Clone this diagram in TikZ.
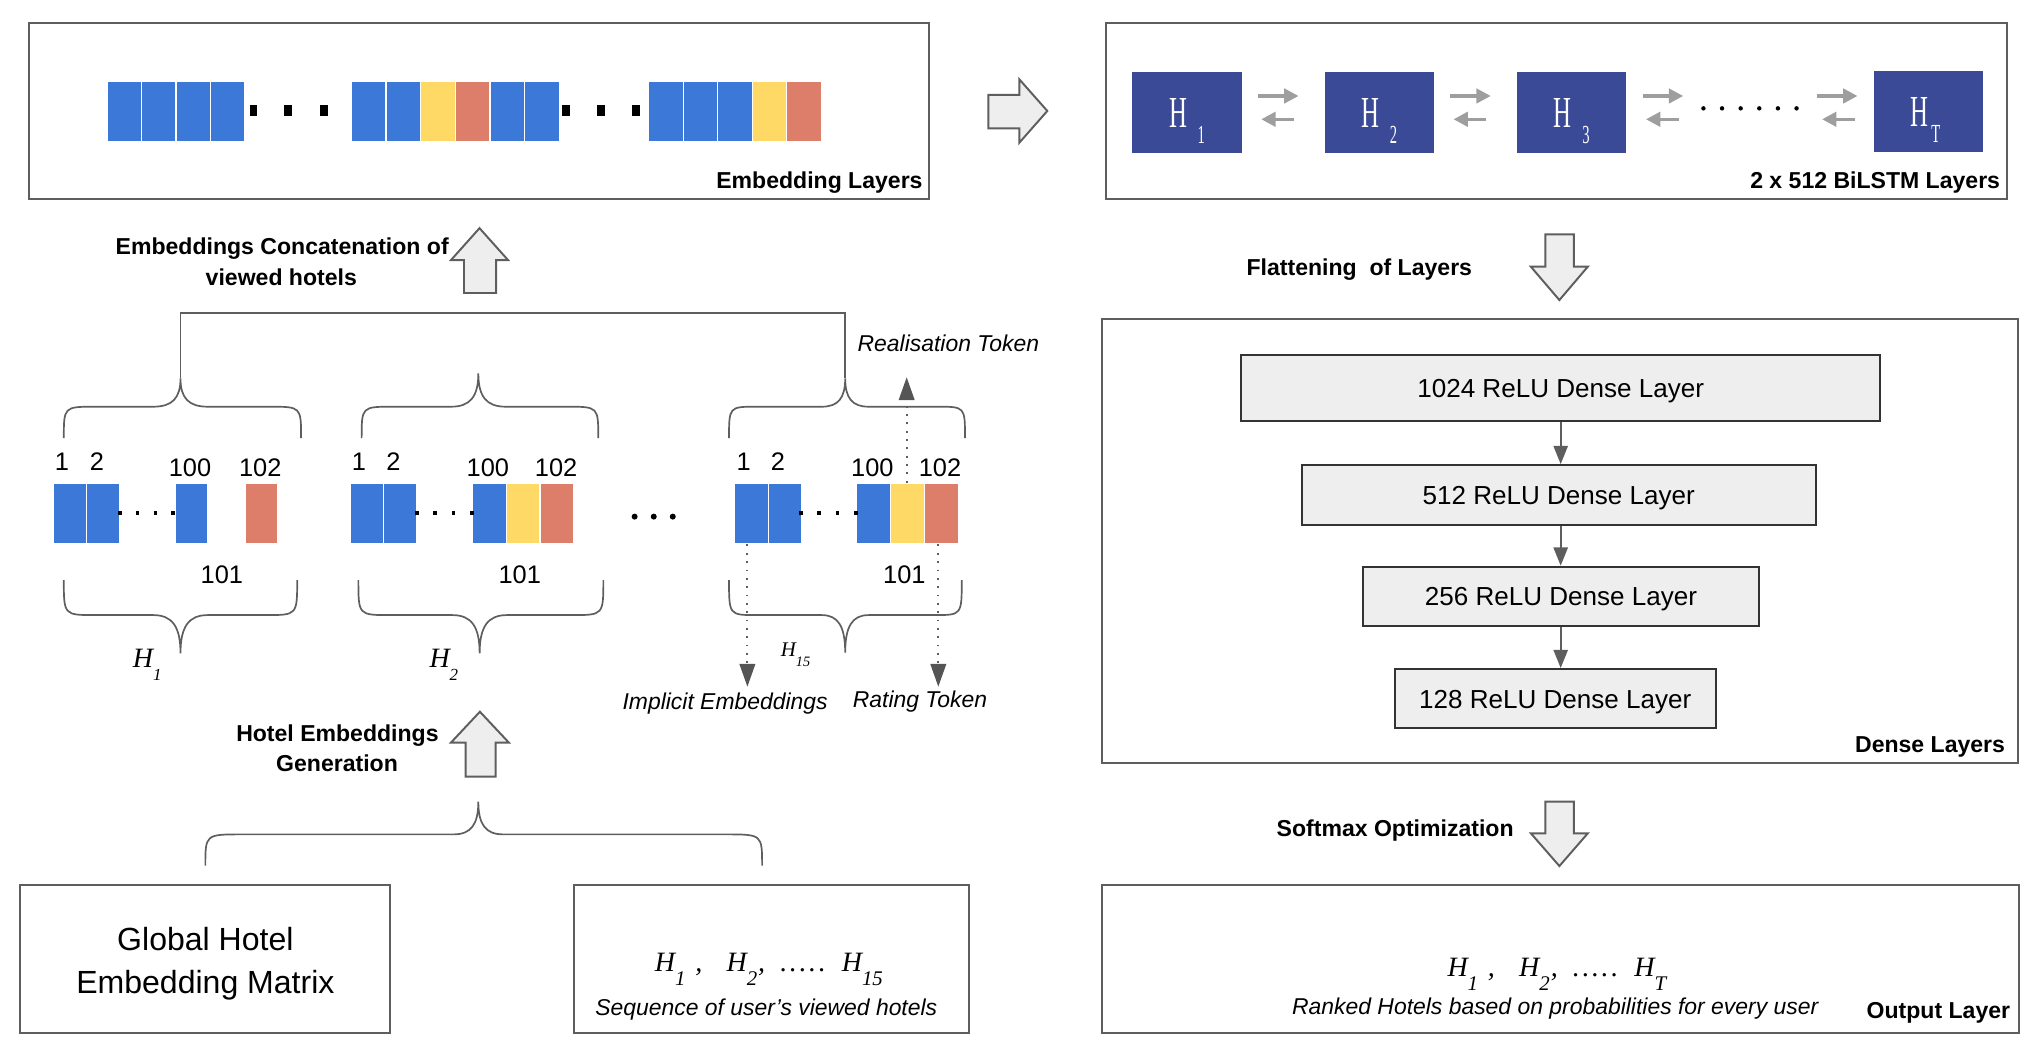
\documentclass[tikz,border=0pt]{standalone}
\usepackage{fontspec}
\setmainfont{Liberation Sans}
\newfontfamily\serif{Liberation Serif}
\usepackage{graphicx}
\usetikzlibrary{arrows.meta,calc}
\definecolor{gblue}{HTML}{3C78D8}
\definecolor{gyel}{HTML}{FFD966}
\definecolor{gred}{HTML}{DD7E6B}
\definecolor{navy}{HTML}{3A4A96}
\definecolor{edge}{HTML}{5E5E5E}
\definecolor{lgray}{HTML}{EEEEEE}
\definecolor{bigray}{HTML}{9E9E9E}
\definecolor{tipgray}{HTML}{555555}
\newcommand{\fs}[1]{\fontsize{#1}{#1}\selectfont}
% italic serif H with lowered subscript: main size, sub size, drop, sub text
\newcommand{\Hit}[4]{{\serif\itshape\fs{#1}H\raisebox{-#3pt}{\fs{#2}#4}}}
% upright condensed white H for the BiLSTM boxes: gap, sub text
\newcommand{\Hup}[2]{{\color{white}\serif\scalebox{0.56}[1]{\fs{34}H}\hspace{#1pt}\raisebox{-12.7pt}{\scalebox{0.56}[1]{\fs{20}#2}}}}
\newcommand{\fivedots}{.\hspace{2pt}.\hspace{2pt}.\hspace{2pt}.\hspace{2pt}.}
% brace: xl xr xt yend ymid ytip corner cusp
\newcommand{\brc}[8]{%
\draw[bracestyle] (#1,#4) .. controls (#1,#5) and (#1,#5) .. ({#1+#7},#5) -- ({#3-#8},#5)
  .. controls ({#3-0.3*#8},#5) and (#3,{#5-0.3*(#5-#6)}) .. (#3,#6)
  .. controls (#3,{#5-0.3*(#5-#6)}) and ({#3+0.3*#8},#5) .. ({#3+#8},#5) -- ({#2-#7},#5)
  .. controls (#2,#5) and (#2,#5) .. (#2,#4);}
\tikzset{
  bracestyle/.style={draw=edge, line width=1.3pt},
  cbox/.style={draw=edge, line width=1.5pt},
  blk/.style={draw=white, line width=0.9pt, inner sep=0pt, anchor=north west, minimum height=46.5pt},
  hbox/.style={fill=navy, minimum width=84pt, minimum height=62pt, inner sep=0pt},
  dense/.style={draw=black!80, fill=lgray, line width=1.5pt, inner sep=0pt, font=\fs{20}, text height=14.4pt, text depth=0pt},
  fat/.style={draw=edge, fill=lgray, line width=1.5pt, line join=miter},
  lbl/.style={font=\fs{17.7}\bfseries, inner sep=0pt},
  itl/.style={font=\fs{17.6}\itshape, inner sep=0pt, anchor=base},
  num/.style={font=\fs{19.5}, inner sep=0pt, anchor=base},
  big/.style={font=\fs{24.6}, inner sep=0pt, anchor=base},
  hl/.style={inner sep=0pt, anchor=base west},
  sfont/.style={font=\serif\itshape\fs{21.5}, inner sep=0pt, anchor=base west},
  dotarrow/.style={draw=edge, line width=1.4pt, dash pattern=on 1.4pt off 5pt, -{Triangle[length=17.5pt,width=12pt,color=tipgray]}},
  biarrow/.style={draw=bigray, line width=2.6pt, -{Triangle[length=11pt,width=11pt]}},
  dnarrow/.style={draw=edge, line width=1.3pt, -{Triangle[length=14pt,width=11pt]}},
}
\begin{document}
\begin{tikzpicture}[x=1pt,y=-1pt]
\useasboundingbox (0,0) rectangle (1568,811);

% ---------------- Embedding Layers box ----------------
\draw[cbox] (22,18) rectangle (713,153);
\foreach \c [count=\i] in {gblue,gblue,gblue,gblue}
  \node[blk, fill=\c, minimum width=26.45pt] (ea\i) at ({81.8+(\i-1)*26.45},62) {};
\foreach \c [count=\i] in {gblue,gblue,gyel,gred,gblue,gblue}
  \node[blk, fill=\c, minimum width=26.6pt] (eb\i) at ({269.4+(\i-1)*26.6},62) {};
\foreach \c [count=\i] in {gblue,gblue,gblue,gyel,gred}
  \node[blk, fill=\c, minimum width=26.5pt] (ec\i) at ({497.6+(\i-1)*26.5},62) {};
\foreach \x in {194.6,221.4,248.8,434.4,461.3,488.2}
  \fill (\x-3,85-4.3) rectangle (\x+3,85+4.3);
\node[lbl, anchor=base east] (embl) at (708.6,144.6) {Embedding Layers};

% right fat arrow
\draw[fat] (758.9,72.9) -- (782.7,72.9) -- (782.7,60.9) -- (804.2,85.2) -- (782.7,109.6) -- (782.7,98.5) -- (758.9,98.5) -- cycle;

% ---------------- BiLSTM box ----------------
\draw[cbox] (849,18) rectangle (1540.8,153);
\node[hbox] (h1) at (911.5,86.6) {};
\node[hbox] (h2) at (1059.1,86.6) {};
\node[hbox] (h3) at (1206.9,86.6) {};
\node[hbox] (hT) at (1480.6,85.8) {};
\node[inner sep=0pt, anchor=base] (h1t) at (911.5,97.8) {\Hup{8}{1}};
\node[inner sep=0pt, anchor=base] (h2t) at (1059.1,97.8) {\Hup{8}{2}};
\node[inner sep=0pt, anchor=base] (h3t) at (1206.9,97.8) {\Hup{8}{3}};
\node[inner sep=0pt, anchor=base] (hTt) at (1478.6,97) {\Hup{2}{T}};
\foreach \n in {h1,h2,h3}{
  \draw[biarrow] ($(\n.east)+(12.2,-12.9)$) -- ($(\n.east)+(43.4,-12.9)$);
  \draw[biarrow] ($(\n.east)+(40.1,5)$) -- ($(\n.east)+(14.8,5)$);
}
\draw[biarrow] ($(hT.west)+(-43.3,-12.1)$) -- ($(hT.west)+(-12.1,-12.1)$);
\draw[biarrow] ($(hT.west)+(-14.3,5.8)$) -- ($(hT.west)+(-39.3,5.8)$);
\foreach \i in {0,...,5}
  \fill ({1308+\i*14.3},83.2) circle (1.7);
\node[lbl, anchor=base east] (bil) at (1536,144.6) {2 x 512 BiLSTM Layers};

% Flattening arrow
\draw[fat] (1186.7,180) -- (1208.5,180) -- (1208.5,204.8) -- (1219.2,204.8) -- (1197.4,230.4) -- (1175.5,204.8) -- (1186.7,204.8) -- cycle;
\node[lbl, anchor=base] (flat) at (1043.8,211.2) {Flattening\ \ of Layers};

% ---------------- Dense layers ----------------
\draw[cbox] (846.1,245) rectangle (1549.6,586);
\node[dense, minimum width=490.4pt, minimum height=50.4pt] (d1) at (1198.4,297.8) {1024 ReLU Dense Layer};
\node[dense, minimum width=394.5pt, minimum height=46pt] (d2) at (1196.9,380.1) {512 ReLU Dense Layer};
\node[dense, minimum width=303.6pt, minimum height=45.6pt] (d3) at (1198.6,457.9) {256 ReLU Dense Layer};
\node[dense, minimum width=246.4pt, minimum height=45.6pt] (d4) at (1194.2,536.5) {128 ReLU Dense Layer};
\draw[dnarrow] (d1.south) -- (d1.south |- d2.north);
\draw[dnarrow] (d1.south |- d2.south) -- (d1.south |- d3.north);
\draw[dnarrow] (d1.south |- d3.south) -- (d1.south |- d4.north);
\node[lbl, anchor=base east] (dnl) at (1539.8,577.7) {Dense Layers};

% Softmax arrow
\draw[fat] (1186.7,615.6) -- (1208.5,615.6) -- (1208.5,639.9) -- (1219.2,639.9) -- (1197.4,665) -- (1175.5,639.9) -- (1186.7,639.9) -- cycle;
\node[lbl, anchor=base] (soft) at (1071.3,642.4) {Softmax Optimization};

% ---------------- Output layer ----------------
\draw[cbox] (846.1,679.6) rectangle (1550.6,793);
\node[hl] (o1) at (1111.3,750) {\Hit{21.5}{16}{10.3}{1}};
\node[sfont] (o1c) at (1142.3,750) {,};
\node[hl] (o2) at (1166.3,750) {\Hit{21.5}{16}{10.3}{2}};
\node[sfont] (o2c) at (1190.6,750) {,};
\node[sfont] (o2d) at (1207.6,750) {\fivedots};
\node[hl] (o3) at (1254.8,750) {\Hit{21.5}{16}{10.3}{T}};
\node[itl] (rank) at (1194.2,779) {Ranked Hotels based on probabilities for every user};
\node[lbl, anchor=base east] (outl) at (1543.7,782) {Output Layer};

% ---------------- Concatenation arrow ----------------
\draw[fat] (356.3,225) -- (356.3,199.7) -- (346.3,199.7) -- (368.2,175.2) -- (390.1,199.7) -- (380.9,199.7) -- (380.9,225) -- cycle;
\node[lbl, anchor=base] (cc1) at (216.7,195.8) {Embeddings Concatenation of};
\node[lbl, anchor=base] (cc2) at (216,219.6) {viewed hotels};

% connector joining braces
\draw[bracestyle] (138.6,290.5) -- (138.6,240.6) -- (649,240.6) -- (649,290.5);

% top braces
\brc{49}{231.2}{138.6}{336.4}{312.3}{290.5}{24}{21}
\brc{277.7}{459.4}{367.3}{336.4}{312.3}{286.7}{24}{21}
\brc{559.8}{741}{649}{336.4}{312.3}{290.5}{21}{18}
% bottom braces
\brc{49}{228.2}{138.6}{445.4}{472.3}{501.7}{24}{21}
\brc{275.2}{463.3}{368.3}{445.4}{472.3}{501.7}{24}{21}
\brc{559.8}{738.5}{649}{445.4}{472.3}{501.2}{21}{18}

% ---------------- Hotel blocks ----------------
\node[blk, fill=gblue, minimum width=25.8pt, minimum height=46.6pt] (ra1) at (40.2,370.6) {};
\node[blk, fill=gblue, minimum width=25.6pt, minimum height=46.6pt] (ra2) at (66,370.6) {};
\node[blk, fill=gblue, minimum width=25pt, minimum height=46.6pt] (ra3) at (134.2,370.6) {};
\node[blk, fill=gred, minimum width=24.9pt, minimum height=46.6pt] (ra4) at (188.1,370.6) {};
\node[blk, fill=gblue, minimum width=25.7pt, minimum height=46.6pt] (rb1) at (268.4,370.6) {};
\node[blk, fill=gblue, minimum width=25.7pt, minimum height=46.6pt] (rb2) at (294.1,370.6) {};
\node[blk, fill=gblue, minimum width=25.9pt, minimum height=46.6pt] (rb3) at (362.4,370.6) {};
\node[blk, fill=gyel, minimum width=25.9pt, minimum height=46.6pt] (rb4) at (388.3,370.6) {};
\node[blk, fill=gred, minimum width=25.9pt, minimum height=46.6pt] (rb5) at (414.2,370.6) {};
\node[blk, fill=gblue, minimum width=25.7pt, minimum height=46.6pt] (rc1) at (563.7,370.6) {};
\node[blk, fill=gblue, minimum width=25.7pt, minimum height=46.6pt] (rc2) at (589.4,370.6) {};
\node[blk, fill=gblue, minimum width=26.1pt, minimum height=46.6pt] (rc3) at (657.2,370.6) {};
\node[blk, fill=gyel, minimum width=26.1pt, minimum height=46.6pt] (rc4) at (683.3,370.6) {};
\node[blk, fill=gred, minimum width=26.1pt, minimum height=46.6pt] (rc5) at (709.4,370.6) {};
\foreach \x in {92.1,105.7,119.3,132.6, 320,334,348.3,362.4, 615.1,629.1,643.2,657.2}
  \fill (\x-1.4,393.7-1.4) rectangle (\x+1.4,393.7+1.4);
\foreach \x in {487.3,502,516.6}
  \fill (\x,396.7) circle (2.3);

% numbers
\node[num] (na1) at (47.5,360.9) {1};
\node[num] (na2) at (74.4,360.9) {2};
\node[num] (na3) at (145.9,366) {100};
\node[num] (na4) at (199.8,366) {102};
\node[num] (na5) at (170.4,447.9) {101};
\node[num] (nb1) at (275.7,360.9) {1};
\node[num] (nb2) at (302.2,360.9) {2};
\node[num] (nb3) at (374.6,366) {100};
\node[num] (nb4) at (427,366) {102};
\node[num] (nb5) at (399.1,447.9) {101};
\node[num] (nc1) at (571,360.9) {1};
\node[num] (nc2) at (597.4,360.9) {2};
\node[num] (nc3) at (669.9,366) {100};
\node[num] (nc4) at (721.8,366) {102};
\node[num] (nc5) at (694.4,447.9) {101};

% H labels under braces
\node[hl] (lh1) at (101.8,512.4) {\Hit{21.5}{13}{10}{1}};
\node[hl] (lh2) at (329.6,512.4) {\Hit{21.5}{13}{10}{2}};
\node[hl] (lh15) at (599.4,504.2) {\Hit{16}{11}{7.7}{15}};

% dotted token arrows
\coordinate (imp) at (573.9,527.3);
\coordinate (rat) at (720.5,527.3);
\coordinate (rea) at (696.2,289.7);
\draw[dotarrow] (imp |- rc1.south) -- (imp);
\draw[dotarrow] (rat |- rc5.south) -- (rat);
\draw[dotarrow] (rea |- rc4.north) -- (rea);
\node[itl] (reat) at (728.2,270) {Realisation Token};
\node[itl] (impt) at (556.8,544.7) {Implicit Embeddings};
\node[itl] (ratt) at (706.4,543) {Rating Token};

% ---------------- Hotel embeddings generation ----------------
\draw[fat] (357.5,596.4) -- (357.5,570.3) -- (346.2,570.3) -- (368.5,546.5) -- (390.8,570.3) -- (380.5,570.3) -- (380.5,596.4) -- cycle;
\node[lbl, anchor=base] (he1) at (259.1,569.5) {Hotel Embeddings};
\node[lbl, anchor=base] (he2) at (258.8,592.5) {Generation};
\brc{157.7}{585.2}{367.3}{664.7}{640.7}{615.6}{28}{19}

\draw[cbox] (15.7,679.6) rectangle (299.7,793);
\node[big] (gh1) at (157.7,729.5) {Global Hotel};
\node[big] (gh2) at (157.7,762.8) {Embedding Matrix};

\draw[cbox] (440.8,679.6) rectangle (744.4,793);
\node[hl] (s1) at (502.7,746.1) {\Hit{21.5}{16}{10.3}{1}};
\node[sfont] (s1c) at (533.7,746.1) {,};
\node[hl] (s2) at (557.7,746.1) {\Hit{21.5}{16}{10.3}{2}};
\node[sfont] (s2c) at (582,746.1) {,};
\node[sfont] (s2d) at (599,746.1) {\fivedots};
\node[hl] (s3) at (646.2,746.1) {\Hit{21.5}{16}{10.3}{15}};
\node[itl] (seqt) at (588.4,779.4) {Sequence of user’s viewed hotels};
\end{tikzpicture}
\end{document}
